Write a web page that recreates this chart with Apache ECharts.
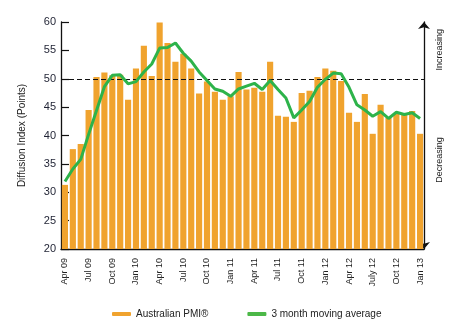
<!DOCTYPE html>
<html>
<head>
<meta charset="utf-8">
<script src="https://cdn.jsdelivr.net/npm/echarts@6/dist/echarts.min.js"></script>
<style>
  html, body { margin: 0; padding: 0; background: #fff; }
  #chart { width: 451px; height: 326px; }
</style>
</head>
<body>
<div id="chart"></div>
<script>
// Monthly categories, April 2009 to January 2013
const months = [
  'Apr 09', 'May 09', 'Jun 09', 'Jul 09', 'Aug 09', 'Sep 09', 'Oct 09', 'Nov 09', 'Dec 09',
  'Jan 10', 'Feb 10', 'Mar 10', 'Apr 10', 'May 10', 'Jun 10', 'Jul 10', 'Aug 10', 'Sep 10',
  'Oct 10', 'Nov 10', 'Dec 10', 'Jan 11', 'Feb 11', 'Mar 11', 'Apr 11', 'May 11', 'Jun 11',
  'Jul 11', 'Aug 11', 'Sep 11', 'Oct 11', 'Nov 11', 'Dec 11', 'Jan 12', 'Feb 12', 'Mar 12',
  'Apr 12', 'May 12', 'Jun 12', 'July 12', 'Aug 12', 'Sep 12', 'Oct 12', 'Nov 12', 'Dec 12',
  'Jan 13'
];

// Australian PMI, monthly reading (points)
const pmi = [
  31.3, 37.6, 38.5, 44.5, 50.3, 51.1, 50.6, 50.7, 46.3,
  51.8, 55.8, 50.5, 59.9, 56.3, 53.0, 54.4, 51.8, 47.4,
  49.5, 47.7, 46.3, 46.9, 51.2, 48.1, 48.4, 47.7, 53.0,
  43.5, 43.3, 42.4, 47.5, 47.9, 50.3, 51.8, 51.4, 49.6,
  44.0, 42.4, 47.3, 40.3, 45.4, 43.1, 43.8, 43.7, 44.3,
  40.3
];

// 3 month moving average (points)
const movingAvg = [
  31.9, 34.1, 35.8, 40.2, 44.4, 48.6, 50.6, 50.7, 49.1,
  49.5, 51.2, 52.6, 55.4, 55.5, 56.3, 54.5, 53.1, 51.2,
  49.7, 48.2, 47.8, 46.9, 48.2, 48.7, 49.2, 48.1, 49.7,
  48.1, 46.6, 43.1, 44.5, 46.0, 48.5, 49.9, 51.0, 50.9,
  48.5, 45.4, 44.5, 43.4, 44.2, 43.0, 44.1, 43.7, 44.0,
  43.0
];

// Value axis ticks
const yMin = 20, yMax = 60, yStep = 5;
// Expansion / contraction threshold
const threshold = 50;

const FONT = 'Liberation Sans';
const chart = echarts.init(document.getElementById('chart'), null, { renderer: 'canvas' });

chart.setOption({
  animation: false,
  textStyle: { fontFamily: FONT },
  grid: { left: 61, right: 27, top: 22, bottom: 77 },
  legend: {
    left: 107,
    top: 304,
    itemGap: 39,
    itemWidth: 19,
    itemHeight: 4,
    textStyle: { fontFamily: FONT, fontSize: 10, color: '#222' },
    data: [
      { name: 'Australian PMI®', icon: 'roundRect' },
      { name: '3 month moving average', icon: 'roundRect' }
    ]
  },
  xAxis: {
    type: 'category',
    data: months,
    boundaryGap: true,
    axisLine: { lineStyle: { color: '#111', width: 1.3 } },
    axisTick: { show: false },
    axisLabel: {
      interval: 2,
      rotate: 90,
      margin: 9,
      fontSize: 9,
      color: '#222',
      fontFamily: FONT
    }
  },
  yAxis: [
    {
      type: 'value',
      min: yMin,
      max: yMax,
      interval: yStep,
      name: 'Diffusion Index (Points)',
      nameLocation: 'middle',
      nameRotate: 90,
      nameGap: 34,
      nameTextStyle: { fontSize: 10, color: '#222', fontFamily: FONT },
      axisLine: { show: true, lineStyle: { color: '#111', width: 1.3 } },
      axisTick: { show: true, inside: true, length: 8, lineStyle: { color: '#111', width: 1.2 } },
      axisLabel: { fontSize: 11, color: '#1f2233', margin: 5, fontFamily: FONT },
      splitLine: { show: false }
    },
    {
      type: 'value',
      min: yMin,
      max: yMax,
      interval: yStep,
      position: 'right',
      axisLine: {
        show: true,
        symbol: ['arrow', 'arrow'],
        symbolSize: [9, 7],
        lineStyle: { color: '#111', width: 1.3 }
      },
      axisTick: { show: false },
      axisLabel: { show: false },
      splitLine: { show: false }
    }
  ],
  series: [
    {
      name: 'Australian PMI®',
      type: 'bar',
      data: pmi,
      barCategoryGap: '22%',
      itemStyle: { color: '#f0a32e' },
      markLine: {
        silent: true,
        symbol: 'none',
        label: { show: false },
        lineStyle: { color: '#111', type: [5, 3], width: 1.2 },
        data: [{ yAxis: threshold }]
      }
    },
    {
      name: '3 month moving average',
      type: 'line',
      data: movingAvg,
      showSymbol: false,
      symbol: 'none',
      smooth: false,
      z: 5,
      lineStyle: { color: '#2db34a', width: 3 },
      itemStyle: { color: '#4cb848' }
    }
  ]
});

// Direction annotations beside the right-hand arrow axis
const axisX = chart.convertToPixel({ gridIndex: 0 }, [months.length - 0.5, threshold])[0] + 1;
const yThr = chart.convertToPixel({ yAxisIndex: 1 }, threshold);
const yUp = chart.convertToPixel({ yAxisIndex: 1 }, 55.1);
const yDown = chart.convertToPixel({ yAxisIndex: 1 }, 35.7);

chart.setOption({
  graphic: [
    {
      type: 'rect',
      shape: { x: axisX - 3, y: yThr - 2, width: 6, height: 4 },
      style: { fill: '#fff' },
      z: 100
    },
    {
      type: 'text',
      x: axisX + 6,
      y: yUp,
      rotation: Math.PI / 2,
      style: {
        text: 'Increasing',
        fontSize: 9,
        fontFamily: FONT,
        fill: '#222',
        align: 'center',
        verticalAlign: 'top'
      },
      z: 100
    },
    {
      type: 'text',
      x: axisX + 6,
      y: yDown,
      rotation: Math.PI / 2,
      style: {
        text: 'Decreasing',
        fontSize: 9,
        fontFamily: FONT,
        fill: '#222',
        align: 'center',
        verticalAlign: 'top'
      },
      z: 100
    }
  ]
});
</script>
</body>
</html>
